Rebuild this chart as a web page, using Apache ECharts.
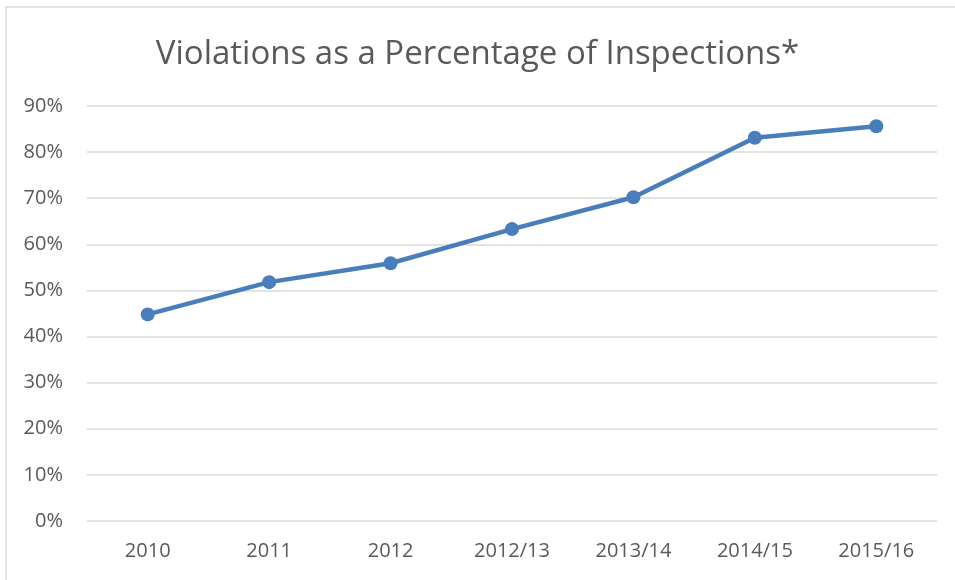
<!DOCTYPE html>
<html>
<head>
<meta charset="utf-8">
<script src="https://cdn.jsdelivr.net/npm/echarts@6/dist/echarts.min.js"></script>
<style>
  html, body { margin: 0; padding: 0; background: #fff; }
  #chart { width: 955px; height: 580px; }
</style>
</head>
<body>
<div id="chart"></div>
<script>
// data
const categories = ["2010", "2011", "2012", "2012/13", "2013/14", "2014/15", "2015/16"];
const violationPct = [44.8, 51.8, 55.9, 63.3, 70.2, 83.1, 85.6];
const yTicks = [0, 10, 20, 30, 40, 50, 60, 70, 80, 90];

const chart = echarts.init(document.getElementById("chart"));

chart.setOption({
    backgroundColor: "#fff",
    animation: false,
    graphic: [{
        type: "rect",
        shape: { x: 6, y: 7, width: 1000, height: 600 },
        style: { fill: "none", stroke: "#d9d9d9", lineWidth: 1.5 },
        silent: true
    }],
    title: {
        text: "Violations as a Percentage of Inspections*",
        left: "center",
        top: 33,
        textStyle: {
            fontFamily: "Open Sans",
            fontSize: 33,
            fontWeight: "normal",
            color: "#595959"
        }
    },
    grid: { left: 87, right: 18, top: 106, bottom: 59 },
    xAxis: {
        type: "category",
        data: categories,
        boundaryGap: true,
        axisLine: { show: false },
        axisTick: { show: false },
        axisLabel: {
            color: "#595959",
            fontFamily: "Open Sans",
            fontSize: 20,
            margin: 20
        }
    },
    yAxis: {
        type: "value",
        min: yTicks[0],
        max: yTicks[yTicks.length - 1],
        interval: 10,
        axisLine: { show: false },
        axisTick: { show: false },
        splitLine: { lineStyle: { color: "#d9d9d9", width: 1.5 } },
        axisLabel: {
            color: "#595959",
            fontFamily: "Open Sans",
            fontSize: 20,
            margin: 24,
            formatter: v => v + "%"
        }
    },
    series: [{
        type: "line",
        data: violationPct,
        symbol: "circle",
        symbolSize: 14,
        lineStyle: { color: "#4a7ebb", width: 4.5 },
        itemStyle: { color: "#4a7ebb" }
    }]
});
</script>
</body>
</html>
